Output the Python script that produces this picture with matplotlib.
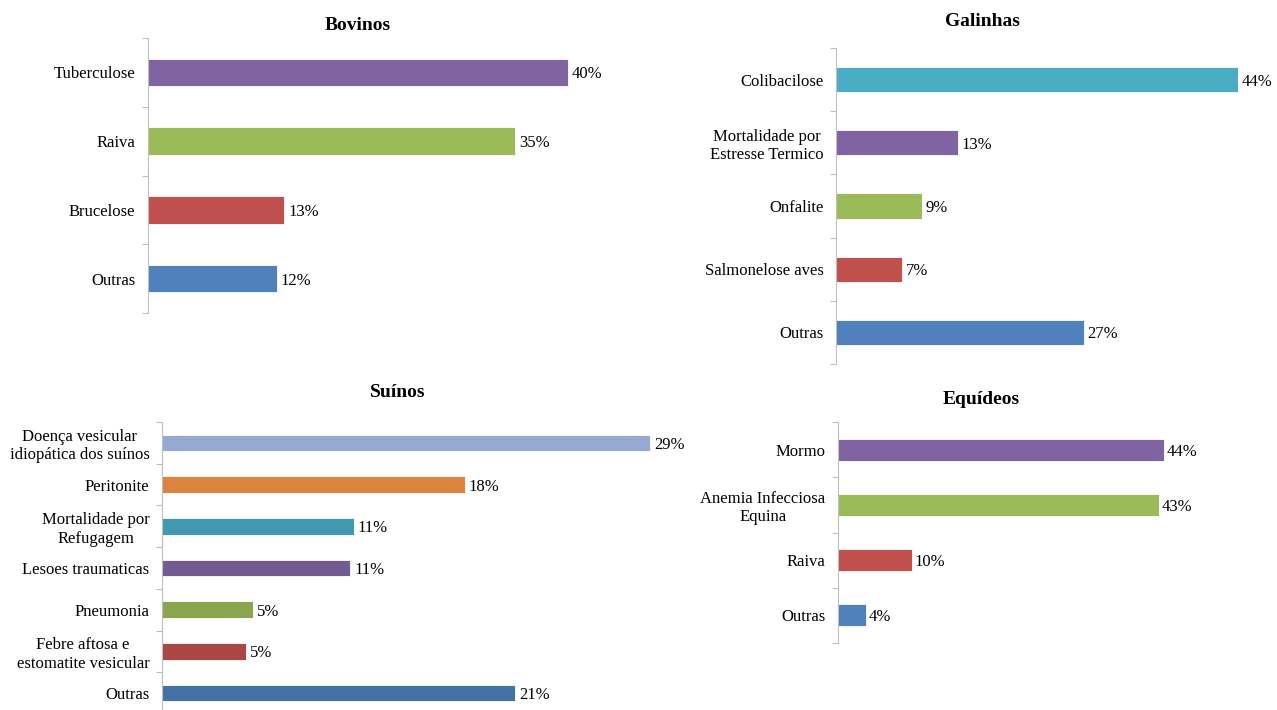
import numpy as np
import matplotlib
matplotlib.use("Agg")
import matplotlib.pyplot as plt

plt.rcParams["font.family"] = ["Liberation Serif", "DejaVu Serif"]

# --- data (percent of notifications per species) ---
bovinos_labels = ["Tuberculose", "Raiva", "Brucelose", "Outras"]
bovinos_values = [40, 35, 13, 12.3]

galinhas_labels = ["Colibacilose", "Mortalidade por\nEstresse Termico", "Onfalite",
                   "Salmonelose aves", "Outras"]
galinhas_values = [43.7, 13.3, 9.4, 7.2, 27]

suinos_labels = ["Doença vesicular\nidiopática dos suínos", "Peritonite",
                 "Mortalidade por\nRefugagem", "Lesoes traumaticas", "Pneumonia",
                 "Febre aftosa e\nestomatite vesicular", "Outras"]
suinos_values = [29, 18, 11.4, 11.2, 5.4, 5, 21]

equideos_labels = ["Mormo", "Anemia Infecciosa\nEquina", "Raiva", "Outras"]
equideos_values = [44, 43.4, 10, 3.8]

# colours
bovinos_colors = ["#8064A2", "#9BBB59", "#C0504D", "#4F81BD"]
galinhas_colors = ["#4BACC6", "#8064A2", "#9BBB59", "#C0504D", "#4F81BD"]
suinos_colors = ["#95A9D1", "#DC843F", "#4198AF", "#735A91", "#89A54E", "#AA4644", "#4571A7"]
equideos_colors = ["#8064A2", "#9BBB59", "#C0504D", "#4F81BD"]

W, H = 1277, 710
fig = plt.figure(figsize=(W / 100, H / 100), dpi=100)


def panel(left, top, right, bottom, xmax, title, title_xy, labels, values, colors):
    ax = fig.add_axes([left / W, 1 - bottom / H, (right - left) / W, (bottom - top) / H])
    n = len(labels)
    y = np.arange(n)
    ax.barh(y, values, height=0.4, color=colors, edgecolor="white", linewidth=0.6)
    ax.set_ylim(n - 0.5, -0.5)
    ax.set_xlim(0, xmax)
    ax.set_yticks(y)
    ax.set_yticklabels(labels, fontsize=12, multialignment="center", linespacing=1.2)
    ax.tick_params(axis="y", which="major", length=0, pad=9)
    ax.set_yticks(np.arange(n + 1) - 0.5, minor=True)
    ax.tick_params(axis="y", which="minor", length=4, color="#BFBFBF", width=0.8)
    ax.set_xticks([])
    for s in ["top", "right", "bottom"]:
        ax.spines[s].set_visible(False)
    ax.spines["left"].set_color("#BFBFBF")
    ax.spines["left"].set_linewidth(0.8)
    for yi, v in zip(y, values):
        ax.text(v + xmax * 0.008, yi, f"{round(v):d}%", va="center_baseline", ha="left",
                fontsize=12)
    fig.text(title_xy[0] / W, 1 - title_xy[1] / H, title, ha="center", va="center",
             fontsize=14, fontweight="bold")
    return ax


panel(148, 38, 620, 313, 45, "Bovinos", (358, 25),
      bovinos_labels, bovinos_values, bovinos_colors)
panel(836, 48, 1259, 364, 46, "Galinhas", (982, 22),
      galinhas_labels, galinhas_values, galinhas_colors)
panel(162, 422, 700, 714, 32, "Suínos", (398, 392),
      suinos_labels, suinos_values, suinos_colors)
panel(838, 422, 1208, 643, 50, "Equídeos", (981, 400),
      equideos_labels, equideos_values, equideos_colors)

fig.savefig("out.png", dpi=100, facecolor="white")
